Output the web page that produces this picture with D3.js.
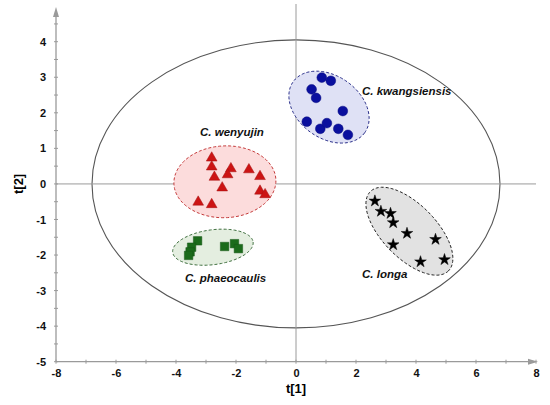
<!DOCTYPE html>
<html>
<head>
<meta charset="utf-8">
<script src="https://cdn.jsdelivr.net/npm/d3@7"></script>
<style>
  body { margin: 0; background: #fff; }
  text { font-family: "Liberation Sans", Arial, sans-serif; }
</style>
</head>
<body>
<div id="chart"></div>
<script>
// scores t[1], t[2] for each group
const kwangX = [0.86, 1.16, 0.52, 0.67, 1.56, 0.36, 0.81, 1.03, 1.41, 1.73];
const kwangY = [2.99, 2.90, 2.66, 2.42, 2.05, 1.75, 1.55, 1.71, 1.55, 1.38];
const wenyX = [-2.81, -2.81, -2.17, -2.28, -2.72, -1.57, -1.20, -2.46, -1.20, -1.03, -3.26, -2.81];
const wenyY = [0.73, 0.48, 0.43, 0.26, 0.19, 0.40, 0.21, -0.11, -0.20, -0.30, -0.51, -0.58];
const phaeoX = [-3.28, -3.48, -3.53, -3.58, -2.38, -2.05, -1.92];
const phaeoY = [-1.60, -1.78, -1.91, -2.01, -1.76, -1.68, -1.82];
const longaX = [2.63, 2.83, 3.15, 3.24, 3.70, 4.65, 3.24, 4.15, 4.95];
const longaY = [-0.48, -0.77, -0.83, -1.09, -1.39, -1.56, -1.71, -2.19, -2.13];

// group ellipses: centre, major-axis vector, minor-axis vector (data units)
const kwangEll = [1.10, 2.16, 1.19, -0.72, -0.61, -0.71];
const wenyEll = [-2.37, 0.06, 1.70, 0.03, 0.0, -1.01];
const phaeoEll = [-2.77, -1.78, 1.34, 0.146, 0.074, -0.486];
const longaEll = [3.78, -1.33, 1.30, -1.117, -0.64, -0.53];
// Hotelling T2 ellipse radii
const t2Radii = [6.8, 4.05];

const xTicks = [-8, -6, -4, -2, 0, 2, 4, 6, 8];
const yTicks = [4, 3, 2, 1, 0, -1, -2, -3, -4, -5];

const width = 550, height = 405;

const svg = d3.select("#chart").append("svg")
    .attr("width", width)
    .attr("height", height);

const x = d3.scaleLinear().domain([-8, 8]).range([56, 536]);
const y = d3.scaleLinear().domain([-5, 4]).range([361.7, 41.7]);

const axisColor = "#9a9a9a";

// T2 ellipse
svg.append("ellipse")
    .attr("cx", x(0))
    .attr("cy", y(0))
    .attr("rx", x(t2Radii[0]) - x(0))
    .attr("ry", y(0) - y(t2Radii[1]))
    .attr("fill", "none")
    .attr("stroke", "#555")
    .attr("stroke-width", 1.1);

// zero lines
svg.append("line")
    .attr("x1", x(0)).attr("x2", x(0))
    .attr("y1", 4).attr("y2", y(-5))
    .attr("stroke", axisColor).attr("stroke-width", 1);
svg.append("line")
    .attr("x1", x(-8)).attr("x2", x(8))
    .attr("y1", y(0)).attr("y2", y(0))
    .attr("stroke", axisColor).attr("stroke-width", 1);

// group ellipses
const ellLine = d3.line()
    .x(d => x(d[0]))
    .y(d => y(d[1]))
    .curve(d3.curveLinearClosed);

function ellPoints(e) {
    return d3.range(0, 2 * Math.PI, Math.PI / 60).map(t => [
        e[0] + e[2] * Math.cos(t) + e[4] * Math.sin(t),
        e[1] + e[3] * Math.cos(t) + e[5] * Math.sin(t)
    ]);
}

const groups = [
    {name: "kwang", ell: kwangEll, xs: kwangX, ys: kwangY, fill: "#dfe1f5", stroke: "#2a2f8a",
     mark: "#0a0f9e", symbol: d3.symbolCircle, size: 75},
    {name: "weny", ell: wenyEll, xs: wenyX, ys: wenyY, fill: "#fcdcdc", stroke: "#c43a3a",
     mark: "#cc1414", symbol: d3.symbolTriangle, size: 50},
    {name: "phaeo", ell: phaeoEll, xs: phaeoX, ys: phaeoY, fill: "#e4eee0", stroke: "#3d6e3d",
     mark: "#1b6b1b", symbol: d3.symbolSquare, size: 72},
    {name: "longa", ell: longaEll, xs: longaX, ys: longaY, fill: "#e2e2e2", stroke: "#222",
     mark: "#000", symbol: d3.symbolStar, size: 42}
];

groups.forEach(function(g) {
    svg.append("path")
        .attr("d", ellLine(ellPoints(g.ell)))
        .attr("fill", g.fill)
        .attr("stroke", g.stroke)
        .attr("stroke-width", 1)
        .attr("stroke-dasharray", "3,2");
});

groups.forEach(function(g) {
    const pts = g.xs.map((v, i) => [v, g.ys[i]]);
    svg.selectAll(".pt-" + g.name)
        .data(pts)
        .enter().append("path")
        .attr("class", "pt-" + g.name)
        .attr("transform", d => `translate(${x(d[0])},${y(d[1])})`)
        .attr("d", d3.symbol().type(g.symbol).size(g.size))
        .attr("fill", g.mark)
        .attr("stroke", d3.color(g.mark).darker(0.6))
        .attr("stroke-width", 0.5);
});

// axes
const xAxis = svg.append("g")
    .attr("transform", `translate(0,${y(-5)})`)
    .call(d3.axisBottom(x).tickValues(xTicks).tickSize(0).tickPadding(8).tickFormat(d => String(d)));
xAxis.select(".domain").remove();
xAxis.selectAll("text")
    .attr("font-size", 11).attr("font-weight", "bold").attr("fill", "#111");

const yAxis = svg.append("g")
    .attr("transform", `translate(${x(-8)},0)`)
    .call(d3.axisLeft(y).tickValues(yTicks).tickSize(0).tickPadding(10).tickFormat(d => String(d)));
yAxis.select(".domain").remove();
yAxis.selectAll("text")
    .attr("font-size", 11).attr("font-weight", "bold").attr("fill", "#111");

// axis lines with arrows
svg.append("line")
    .attr("x1", x(-8)).attr("x2", 534)
    .attr("y1", y(-5)).attr("y2", y(-5))
    .attr("stroke", axisColor).attr("stroke-width", 1.3);
svg.append("path")
    .attr("d", `M538,${y(-5)} L528,${y(-5) - 3} L528,${y(-5) + 3} Z`)
    .attr("fill", axisColor);
svg.append("line")
    .attr("x1", x(-8)).attr("x2", x(-8))
    .attr("y1", y(-5)).attr("y2", 12)
    .attr("stroke", axisColor).attr("stroke-width", 1.3);
svg.append("path")
    .attr("d", `M${x(-8)},7 L${x(-8) - 3},17 L${x(-8) + 3},17 Z`)
    .attr("fill", axisColor);

// small tick marks
svg.selectAll(".xtick")
    .data(d3.range(-8, 8.01, 1))
    .enter().append("line")
    .attr("x1", d => x(d)).attr("x2", d => x(d))
    .attr("y1", y(-5) - 2).attr("y2", y(-5) + 2)
    .attr("stroke", axisColor);
svg.selectAll(".ytick")
    .data(d3.range(-5, 4.51, 0.5))
    .enter().append("line")
    .attr("x1", x(-8) - 2).attr("x2", x(-8) + 2)
    .attr("y1", d => y(d)).attr("y2", d => y(d))
    .attr("stroke", axisColor);

// axis titles
svg.append("text")
    .attr("x", x(0)).attr("y", 393)
    .attr("text-anchor", "middle")
    .attr("font-size", 13).attr("font-weight", "bold")
    .text("t[1]");
svg.append("text")
    .attr("transform", `translate(23,${y(0)}) rotate(-90)`)
    .attr("text-anchor", "middle")
    .attr("font-size", 13).attr("font-weight", "bold")
    .text("t[2]");

// group labels
const labels = [
    {t: "C. kwangsiensis", x: 362, y: 95},
    {t: "C. wenyujin", x: 200, y: 136},
    {t: "C. phaeocaulis", x: 185, y: 282},
    {t: "C. longa", x: 362, y: 278}
];
svg.selectAll(".glabel")
    .data(labels)
    .enter().append("text")
    .attr("class", "glabel")
    .attr("x", d => d.x).attr("y", d => d.y)
    .attr("font-size", 11.5)
    .attr("font-weight", "bold")
    .attr("font-style", "italic")
    .attr("fill", "#111")
    .text(d => d.t);
</script>
</body>
</html>
